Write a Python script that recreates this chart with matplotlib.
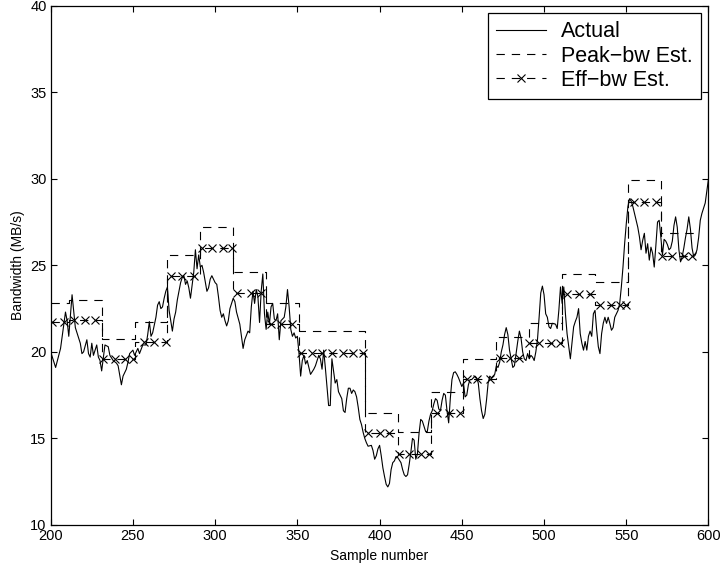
import numpy as np
import matplotlib
matplotlib.use("Agg")
import matplotlib.pyplot as plt

plt.rcParams["font.family"] = ["Liberation Sans", "DejaVu Sans"]
plt.rcParams["lines.scale_dashes"] = False

# measured bandwidth, one row per ten readings
ACTUAL_SAMPLES = [
    200, 203, 206, 209, 210, 211, 213, 215, 216, 218,
    219, 220, 222, 223, 224, 225, 226, 228, 229, 230,
    231, 233, 235, 236, 238, 240, 241, 243, 244, 246,
    247, 248, 250, 251, 253, 254, 256, 258, 259, 260,
    261, 262, 264, 265, 266, 267, 268, 269, 270, 271,
    272, 274, 275, 276, 277, 278, 279, 280, 281, 282,
    283, 284, 285, 287, 288, 289, 290, 291, 292, 293,
    295, 296, 297, 298, 300, 301, 302, 303, 304, 305,
    306, 307, 308, 309, 311, 312, 313, 315, 316, 317,
    318, 320, 321, 322, 323, 324, 325, 326, 327, 328,
    329, 330, 331, 332, 333, 334, 335, 336, 337, 338,
    339, 340, 342, 343, 344, 345, 346, 347, 348, 349,
    350, 351, 352, 353, 354, 355, 356, 357, 358, 360,
    361, 362, 363, 364, 365, 366, 367, 368, 369, 370,
    371, 372, 373, 374, 375, 376, 377, 378, 379, 380,
    381, 382, 383, 384, 385, 386, 387, 388, 389, 390,
    391, 392, 393, 395, 396, 397, 398, 399, 400, 401,
    402, 403, 404, 405, 406, 407, 408, 409, 410, 411,
    413, 414, 415, 416, 417, 418, 419, 420, 421, 422,
    423, 424, 425, 426, 427, 428, 429, 430, 431, 432,
    433, 434, 435, 436, 437, 438, 439, 440, 441, 442,
    443, 444, 445, 446, 447, 448, 450, 451, 452, 453,
    454, 455, 456, 458, 459, 460, 461, 462, 463, 464,
    465, 466, 467, 468, 470, 471, 472, 473, 474, 475,
    476, 477, 478, 479, 480, 481, 482, 483, 484, 485,
    486, 487, 488, 489, 490, 491, 492, 493, 494, 495,
    496, 497, 498, 499, 500, 501, 502, 503, 504, 505,
    507, 508, 509, 510, 511, 512, 513, 514, 515, 516,
    517, 518, 519, 520, 521, 522, 523, 524, 525, 526,
    527, 528, 529, 530, 531, 532, 533, 534, 535, 536,
    537, 538, 539, 540, 541, 542, 543, 544, 545, 546,
    547, 548, 549, 550, 551, 552, 553, 554, 555, 556,
    557, 558, 559, 560, 561, 562, 563, 564, 565, 566,
    567, 568, 569, 570, 571, 572, 573, 574, 575, 576,
    577, 578, 579, 580, 581, 582, 583, 584, 585, 586,
    587, 588, 589, 590, 591, 592, 593, 594, 595, 596,
    597, 598, 599, 600,
]
ACTUAL_BW = [
    20.0, 19.1, 20.2, 22.3, 21.8, 20.9, 23.3, 21.4, 21.1, 20.5,
    19.9, 20.0, 20.7, 19.9, 19.7, 20.5, 19.8, 20.4, 19.7, 19.5,
    18.9, 20.4, 20.3, 19.8, 19.5, 19.35, 19.2, 18.1, 18.6, 19.0,
    19.4, 19.9, 20.1, 19.8, 20.2, 19.9, 20.4, 20.4, 21.0, 21.75,
    20.9, 21.1, 22.0, 22.7, 22.9, 22.5, 22.6, 23.1, 23.5, 23.75,
    22.4, 21.2, 21.9, 22.3, 23.0, 23.5, 24.0, 24.3, 24.4, 23.9,
    24.1, 23.7, 23.1, 24.6, 25.9, 24.8, 25.6, 24.9, 25.0, 24.6,
    23.5, 23.7, 24.2, 24.4, 24.0, 23.9, 23.2, 22.4, 22.0, 22.2,
    21.8, 21.5, 21.8, 22.5, 23.1, 22.9, 22.3, 21.6, 20.9, 20.2,
    20.7, 21.2, 21.1, 22.6, 23.5, 22.8, 23.6, 23.2, 21.7, 23.5,
    24.5, 22.2, 21.3, 22.3, 21.6, 22.6, 22.8, 21.9, 21.8, 22.2,
    20.7, 21.8, 22.0, 22.6, 23.6, 22.6, 21.3, 20.9, 21.1, 20.8,
    20.9, 19.9, 18.6, 19.5, 19.8, 19.3, 19.5, 19.1, 18.7, 19.0,
    19.2, 19.5, 19.8, 19.6, 19.0, 20.1, 19.1, 18.0, 16.9, 16.9,
    19.6, 18.9, 18.2, 18.4, 17.7, 17.5, 17.3, 16.6, 16.5, 17.3,
    17.9, 17.9, 17.6, 17.8, 17.7, 17.4, 16.8, 16.1, 15.8, 15.35,
    15.0, 14.75, 14.55, 14.6, 14.3, 13.8, 14.0, 14.4, 14.6, 14.0,
    13.3, 12.8, 12.35, 12.2, 12.4, 13.2, 13.6, 13.7, 13.95, 13.9,
    13.6, 13.2, 12.9, 12.8, 12.9, 13.5, 14.2, 15.0, 14.9, 13.8,
    14.1, 15.3, 16.1, 16.0, 15.7, 15.4, 15.4, 16.0, 16.4, 16.6,
    17.0, 17.3, 17.2, 16.7, 16.6, 17.2, 17.6, 17.5, 16.6, 15.9,
    17.3, 18.4, 18.8, 18.85, 18.7, 18.5, 18.0, 18.2, 17.4, 17.5,
    18.1, 18.4, 18.4, 18.6, 18.5, 18.2, 17.3, 16.6, 16.15, 16.4,
    17.2, 18.2, 18.6, 18.5, 18.7, 19.2, 19.1, 19.4, 20.0, 20.4,
    21.0, 21.4, 21.0, 20.1, 19.6, 19.1, 19.2, 19.9, 20.6, 21.2,
    20.8, 20.0, 19.6, 19.5, 19.9, 19.6, 19.8, 19.7, 19.5, 20.0,
    20.7, 22.0, 23.4, 23.8, 23.3, 22.2, 22.0, 21.45, 21.35, 21.65,
    21.6, 21.35, 22.4, 23.75, 22.8, 23.75, 22.2, 21.05, 20.3, 19.6,
    20.5, 21.45, 21.75, 22.0, 22.5, 21.05, 20.5, 20.1, 20.6, 20.1,
    20.9, 21.2, 20.9, 22.2, 22.4, 21.25, 20.3, 19.9, 21.05, 21.65,
    22.0, 21.65, 22.0, 21.65, 21.25, 21.4, 22.0, 22.2, 22.4, 22.8,
    23.75, 24.9, 26.25, 27.4, 28.4, 28.85, 28.7, 28.4, 28.0, 27.6,
    27.2, 26.65, 25.9, 26.45, 26.85, 25.7, 26.25, 25.3, 26.05, 25.7,
    24.9, 26.15, 27.5, 27.6, 26.65, 25.6, 26.5, 26.4, 26.2, 25.9,
    26.0, 26.4, 27.3, 27.8, 27.2, 25.9, 25.2, 25.5, 26.0, 26.6,
    27.1, 27.8, 27.1, 26.0, 25.5, 25.6, 25.9, 26.6, 27.6, 28.0,
    28.3, 28.6, 29.3, 30.0,
]

# estimator windows: first sample of each window, last window ends at SEG_END
SEG_STARTS = [200, 211, 231, 251, 271, 291, 311, 331, 351, 391,
              411, 431, 451, 471, 491, 511, 531, 551, 571]
SEG_END = 591
PEAK_BW = [22.8, 23.0, 20.72, 21.74, 25.59, 27.19, 24.62, 22.8, 21.22, 16.48,
           15.35, 17.7, 19.58, 20.87, 21.68, 24.49, 24.01, 29.92, 26.84]
EFF_BW = [21.74, 21.84, 19.57, 20.58, 24.4, 25.99, 23.41, 21.59, 19.91, 15.33,
          14.1, 16.45, 18.41, 19.62, 20.49, 23.32, 22.7, 28.63, 25.53]

# samples at which the effective-bandwidth estimate was reported
EFF_MARKER_SAMPLES = [
    201, 208, 214, 221, 227, 232, 239, 245, 250, 257, 263, 270, 273, 280,
    287, 292, 298, 305, 310, 313, 322, 328, 334, 340, 347, 352, 359, 365,
    371, 378, 384, 390, 393, 400, 406, 412, 418, 425, 430, 435, 442, 449,
    453, 459, 467, 473, 479, 485, 491, 497, 504, 510, 514, 521, 528, 534,
    541, 546, 550, 555, 561, 568, 572, 578, 585, 590,
]

DASH = (0, (6, 5))


def main() -> None:
    assert len(ACTUAL_SAMPLES) == len(ACTUAL_BW)

    est_x = np.arange(SEG_STARTS[0], SEG_END + 1)
    seg_idx = np.searchsorted(SEG_STARTS, est_x, side="right") - 1
    peak = np.asarray(PEAK_BW)[seg_idx]
    eff = np.asarray(EFF_BW)[seg_idx]
    marker_idx = [s - SEG_STARTS[0] for s in EFF_MARKER_SAMPLES]

    fig = plt.figure(figsize=(7.22, 5.67), dpi=100)
    ax = fig.add_axes([0.0702, 0.0741, 0.9111, 0.9159])

    ax.plot(ACTUAL_SAMPLES, ACTUAL_BW, color="black", linewidth=0.8,
            label="Actual")
    ax.plot(est_x, peak, color="black", linewidth=0.8,
            linestyle=DASH, drawstyle="steps-post",
            label="Peak\u2212bw Est.")
    ax.plot(est_x, eff, color="black", linewidth=0.8,
            linestyle=DASH, drawstyle="steps-post",
            marker="x", markersize=5.5, markeredgewidth=0.8,
            markevery=marker_idx, label="Eff\u2212bw Est.")

    ax.set_xlim(200, 600)
    ax.set_ylim(10, 40)
    ax.set_xticks(np.arange(200, 601, 50))
    ax.set_yticks(np.arange(10, 41, 5))

    ax.tick_params(direction="in", length=4.5, width=0.8,
                   top=True, right=True, labelsize=10.5, pad=3)
    for spine in ax.spines.values():
        spine.set_linewidth(0.9)

    ax.set_xlabel("Sample number", fontsize=10, labelpad=4)
    ax.set_ylabel("Bandwidth (MB/s)", fontsize=10, labelpad=4)

    leg = ax.legend(loc="upper right", fontsize=15.5, frameon=True,
                    fancybox=False, framealpha=1, edgecolor="black",
                    numpoints=1, borderaxespad=0.33, handlelength=2.3,
                    handletextpad=0.7, labelspacing=0.15, borderpad=0.4)
    leg.get_frame().set_linewidth(0.9)
    # one cross in the middle of the legend sample
    leg.legend_handles[2].set_markevery([1])

    fig.savefig("out.png", dpi=100)
    plt.close(fig)


if __name__ == "__main__":
    main()
